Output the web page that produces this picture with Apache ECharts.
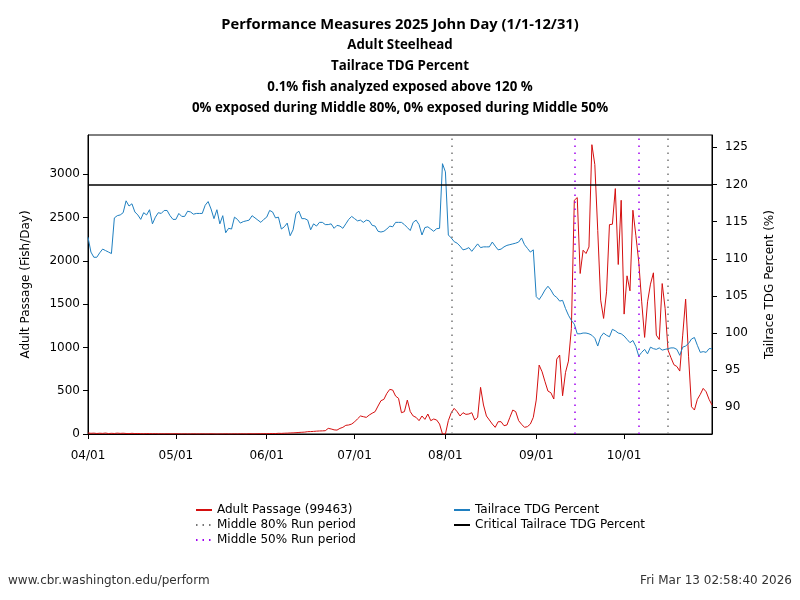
<!DOCTYPE html>
<html>
<head>
<meta charset="utf-8">
<script src="https://cdn.jsdelivr.net/npm/echarts@6/dist/echarts.min.js"></script>
<style>html,body{margin:0;padding:0;background:#fff}#c{width:800px;height:600px}</style>
</head>
<body>
<div id="c"></div>
<script>
// Daily data 04/01 .. 10/31 (2025)
const passage = [
 12, 8, 10, 6, 9, 7, 11, 5, 8, 6,
 10, 7, 9, 6, 4, 8, 5, 6, 4, 3,
 5, 4, 3, 4, 2, 3, 2, 3, 2, 2,
 3, 2, 1, 2, 1, 1, 2, 1, 1, 2,
 1, 1, 2, 1, 0, 1, 1, 2, 1, 1,
 2, 1, 2, 2, 1, 3, 2, 2, 3, 3,
 4, 3, 5, 6, 5, 8, 7, 9, 10, 12,
 13, 15, 18, 20, 22, 27, 28, 30, 33, 35,
 36, 38, 65, 58, 48, 45, 65, 77, 100, 104,
 115, 140, 175, 208, 200, 192, 219, 240, 258, 323,
 385, 400, 469, 515, 508, 438, 412, 246, 258, 392,
 258, 208, 192, 154, 208, 169, 231, 154, 173, 162,
 115, 0, 0, 154, 246, 296, 258, 208, 246, 227,
 231, 246, 162, 192, 539, 335, 208, 162, 115, 77,
 142, 142, 96, 104, 192, 277, 258, 154, 112, 77,
 85, 115, 192, 392, 796, 719, 604, 496, 477, 404,
 865, 912, 442, 712, 842, 1219, 2700, 2731, 1854, 2123,
 2085, 2161, 3342, 3112, 2350, 1546, 1335, 1642, 2419, 2423,
 2835, 1958, 2700, 1385, 1827, 1654, 2585, 2296, 1988, 1527,
 1116, 1527, 1731, 1862, 1142, 1092, 1738, 1450, 969, 881,
 800, 780, 727, 1142, 1558, 892, 315, 277, 400, 458,
 527, 488, 400, 335
];
const tdg = [
 112.9, 110.9, 110.2, 110.2, 110.8, 111.3, 111.1, 110.9, 110.7, 115.5,
 115.8, 115.9, 116.2, 117.8, 117.1, 117.4, 116.3, 115.9, 115.3, 116.2,
 115.9, 116.6, 114.7, 115.6, 116.2, 116.1, 116.5, 116.5, 115.8, 115.3,
 115.3, 116.1, 115.7, 115.7, 116.4, 116.3, 116.0, 116.1, 116.1, 116.1,
 117.2, 117.7, 116.7, 115.4, 116.6, 114.7, 115.8, 113.5, 114.1, 114.0,
 115.6, 115.3, 114.8, 115.0, 115.1, 115.2, 115.8, 115.5, 115.2, 114.9,
 115.3, 115.6, 116.5, 116.3, 115.5, 115.6, 114.0, 114.3, 114.8, 113.1,
 113.9, 116.1, 116.4, 115.4, 115.4, 115.2, 113.9, 114.7, 114.4, 114.9,
 114.9, 114.6, 114.6, 114.7, 114.1, 114.5, 114.4, 114.1, 114.7, 115.3,
 115.7, 115.4, 115.1, 115.2, 114.9, 115.2, 115.1, 114.5, 114.4, 113.7,
 113.6, 113.7, 114.0, 114.4, 114.3, 114.9, 114.9, 114.9, 114.6, 114.2,
 113.8, 114.9, 115.2, 114.6, 113.2, 114.2, 114.3, 114.0, 113.7, 114.05,
 114.1, 122.8, 121.7, 113.2, 112.8, 112.3, 112.1, 111.7, 111.2, 111.3,
 111.5, 111.0, 111.5, 112.0, 111.5, 111.6, 111.6, 111.6, 112.25, 111.7,
 111.2, 111.3, 111.6, 111.8, 111.9, 112.0, 112.1, 112.25, 112.8, 111.9,
 111.4, 110.9, 111.2, 104.9, 104.5, 105.1, 105.8, 106.3, 105.8, 105.1,
 104.8, 104.3, 104.4, 103.3, 102.4, 101.7, 101.2, 99.9, 99.9, 100.0,
 100.0, 99.9, 99.7, 99.3, 98.25, 99.5, 100.0, 99.7, 99.5, 100.5,
 100.3, 100.0, 99.9, 99.6, 99.15, 98.7, 99.0, 98.2, 96.9, 97.4,
 97.8, 97.2, 98.1, 97.9, 97.8, 98.0, 97.7, 97.8, 97.9, 98.0,
 98.0, 97.8, 97.0, 98.1, 98.25, 98.6, 99.2, 99.4, 98.35, 97.4,
 97.5, 97.4, 97.9, 97.9
];
const monthTicks = ['04/01','05/01','06/01','07/01','08/01','09/01','10/01'];
const leftTicks = [0, 500, 1000, 1500, 2000, 2500, 3000];
const rightTicks = [90, 95, 100, 105, 110, 115, 120, 125];
const mid80 = ['08/03', '10/16'];
const mid50 = ['09/14', '10/06'];
const criticalTDG = 120;
const totalPassage = 99463;
const titleLines = [
  'Performance Measures 2025 John Day (1/1-12/31)',
  'Adult Steelhead',
  'Tailrace TDG Percent',
  '0.1% fish analyzed exposed above 120 %',
  '0% exposed during Middle 80%, 0% exposed during Middle 50%'
];

// date categories
const dates = [];
{
  const d = new Date(Date.UTC(2025, 3, 1));
  const end = new Date(Date.UTC(2025, 9, 31));
  while (d <= end) {
    const mm = String(d.getUTCMonth() + 1).padStart(2, '0');
    const dd = String(d.getUTCDate()).padStart(2, '0');
    dates.push(mm + '/' + dd);
    d.setUTCDate(d.getUTCDate() + 1);
  }
}

const F = 'DejaVu Sans';
const RED = '#d40f0f', BLUE = '#1f7fc0', GREY = '#777777', PURPLE = '#a000f0';
const chart = echarts.init(document.getElementById('c'));
const legendCommon = {
  orient: 'vertical', top: 499, itemWidth: 16, itemHeight: 10, itemGap: 3,
  itemStyle: { opacity: 0 },
  textStyle: { fontFamily: F, fontSize: 12, color: '#000' }
};
const titleGraphics = titleLines.map((t, i) => ({
  type: 'text', x: 400, y: 24.5 + i * 21, silent: true,
  style: { text: t, align: 'center', verticalAlign: 'middle', fill: '#000',
    fontFamily: 'Open Sans', fontWeight: 'bold', fontSize: i === 0 ? 14.7 : 13.3 }
}));
chart.setOption({
  animation: false,
  backgroundColor: '#fff',
  textStyle: { fontFamily: F },
  grid: { left: 88, right: 88, top: 135, bottom: 166, show: true, borderColor: '#000', borderWidth: 1, containLabel: false },
  legend: [
    Object.assign({ left: 190, data: ['Adult Passage (' + totalPassage + ')', 'Middle 80% Run period', 'Middle 50% Run period'] }, legendCommon),
    Object.assign({ left: 448, data: ['Tailrace TDG Percent', 'Critical Tailrace TDG Percent'] }, legendCommon)
  ],
  xAxis: {
    type: 'category', data: dates, boundaryGap: false,
    axisLine: { lineStyle: { color: '#000', width: 1 } },
    axisTick: { length: 5, lineStyle: { color: '#000' }, interval: (i, v) => monthTicks.includes(v) },
    axisLabel: { color: '#000', fontSize: 12, margin: 16, interval: (i, v) => monthTicks.includes(v) },
    splitLine: { show: false }
  },
  yAxis: [
    { type: 'value', min: 0, max: 3454, position: 'left',
      name: 'Adult Passage (Fish/Day)', nameLocation: 'middle', nameRotate: 90, nameGap: 56,
      nameTextStyle: { fontSize: 12, color: '#000', fontFamily: F },
      axisLine: { show: true, lineStyle: { color: '#000' } },
      axisTick: { show: true, length: 5, customValues: leftTicks, lineStyle: { color: '#000' } },
      axisLabel: { color: '#000', fontSize: 12, margin: 8, customValues: leftTicks, formatter: v => String(v) },
      splitLine: { show: false } },
    { type: 'value', min: 86.41, max: 126.66, position: 'right',
      name: 'Tailrace TDG Percent (%)', nameLocation: 'middle', nameRotate: 90, nameGap: 52,
      nameTextStyle: { fontSize: 12, color: '#000', fontFamily: F },
      axisLine: { show: true, lineStyle: { color: '#000' } },
      axisTick: { show: true, length: 5, customValues: rightTicks, lineStyle: { color: '#000' } },
      axisLabel: { color: '#000', fontSize: 12, margin: 13, customValues: rightTicks, formatter: v => String(v) },
      splitLine: { show: false } }
  ],
  series: [
    { name: 'Adult Passage (' + totalPassage + ')', type: 'line', yAxisIndex: 0, data: passage,
      symbol: 'none', color: RED, lineStyle: { color: RED, width: 1 }, z: 3 },
    { name: 'Tailrace TDG Percent', type: 'line', yAxisIndex: 1, data: tdg,
      symbol: 'none', color: BLUE, lineStyle: { color: BLUE, width: 1 }, z: 3 },
    { name: 'Middle 80% Run period', type: 'line', yAxisIndex: 0, data: [],
      symbol: 'none', color: GREY, lineStyle: { color: GREY, width: 1.5, type: [1.5, 5] },
      markLine: { symbol: 'none', silent: true, label: { show: false },
        lineStyle: { color: GREY, width: 1.5, type: [1.5, 5.5] },
        data: mid80.map(v => ({ xAxis: v })) } },
    { name: 'Middle 50% Run period', type: 'line', yAxisIndex: 0, data: [],
      symbol: 'none', color: PURPLE, lineStyle: { color: PURPLE, width: 1.5, type: [1.5, 5] },
      markLine: { symbol: 'none', silent: true, label: { show: false },
        lineStyle: { color: PURPLE, width: 1.5, type: [1.5, 5.5] },
        data: mid50.map(v => ({ xAxis: v })) } },
    { name: 'Critical Tailrace TDG Percent', type: 'line', yAxisIndex: 1, data: [],
      symbol: 'none', color: '#000', lineStyle: { color: '#000', width: 1.5 },
      markLine: { symbol: 'none', silent: true, label: { show: false },
        lineStyle: { color: '#000', width: 1.5, type: 'solid' },
        data: [{ yAxis: criticalTDG }] } }
  ],
  graphic: titleGraphics.concat([
    { type: 'text', left: 8, top: 575, style: { text: 'www.cbr.washington.edu/perform', fontFamily: F, fontSize: 12, fill: '#333' } },
    { type: 'text', right: 8, top: 575, style: { text: 'Fri Mar 13 02:58:40 2026', fontFamily: F, fontSize: 12, fill: '#333' } }
  ])
});
</script>
</body>
</html>
